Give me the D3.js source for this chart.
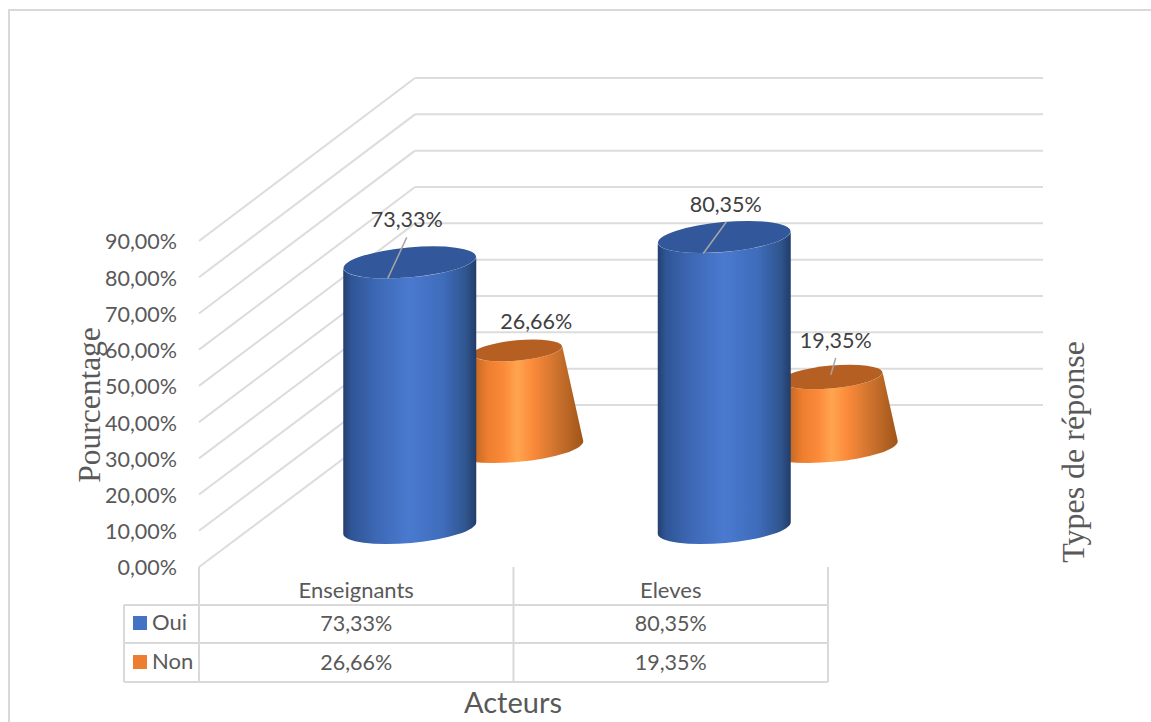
<!DOCTYPE html>
<html>
<head>
<meta charset="utf-8">
<script src="https://cdnjs.cloudflare.com/ajax/libs/d3/7.8.5/d3.min.js"></script>
<style>
  html, body { margin: 0; padding: 0; background: #fff; overflow: hidden; }
  text { font-family: Lato, "Open Sans", sans-serif; fill: #595959; }
</style>
</head>
<body>
<div id="chart"></div>
<script>
// values
const categories = ["Enseignants", "Eleves"];
const seriesNames = ["Oui", "Non"];
const oui = [73.33, 80.35];
const non = [26.66, 19.35];
const yTicks = [0, 10, 20, 30, 40, 50, 60, 70, 80, 90];

const width = 1151;
const height = 722;
const frFormat = function (v) { return v.toFixed(2).replace(".", ",") + "%"; };

// where the 3d box sits on the page
const frontX = 199, backX = 415, backRight = 1043;
const tableLeft = 124, tableRight = 828;
const rowY = [605, 643, 682];
const slope = 0.09;   // tilt of the ellipses
const flat = 0.225;   // ry / rx

const yFront = d3.scaleLinear().domain([0, 90]).range([567, 241]);
const yBack = d3.scaleLinear().domain([0, 90]).range([405, 78]);
const x0 = d3.scaleBand().domain(categories).range([frontX, tableRight]);
const xSeries = d3.scalePoint().domain(seriesNames).range([53.5, 161]);
// cone narrows with height, cylinder does not
const coneRadius = d3.scaleLinear().domain([0, 84]).range([66, 0]);
const blueBase = 528, orangeBase = 447;

const svg = d3.select("#chart").append("svg").attr("width", width).attr("height", height)
  .style("display", "block");

// gradients
const defs = svg.append("defs");
function gradient(id, stops) {
  const g = defs.append("linearGradient").attr("id", id).attr("x1", "0").attr("x2", "1").attr("y1", "0").attr("y2", "0");
  stops.forEach(function (s) { g.append("stop").attr("offset", s[0]).attr("stop-color", s[1]); });
}
gradient("blueSide", [[0, "#253f6e"], [0.06, "#2f5596"], [0.25, "#3d68b5"], [0.5, "#4a7ad0"], [0.75, "#3f6cbb"], [0.92, "#30568f"], [1, "#223c68"]]);
gradient("orangeSide", [[0, "#b86222"], [0.19, "#c96b25"], [0.28, "#ef7f30"], [0.4, "#fb8a3a"], [0.5, "#ffa54f"], [0.62, "#fb8a3a"], [0.82, "#c86f2c"], [1, "#9f5518"]]);

// page frame
svg.append("path").attr("d", "M9,722V10H1151").attr("fill", "none").attr("stroke", "#d9d9d9").attr("stroke-width", 2);

// grid lines on the back and side walls
const grid = svg.append("g").attr("stroke", "#dcdcdc").attr("stroke-width", 2).attr("fill", "none");
grid.selectAll(".back").data(yTicks).enter().append("line").attr("class", "back")
  .attr("x1", backX).attr("x2", backRight)
  .attr("y1", function (d) { return yBack(d); }).attr("y2", function (d) { return yBack(d); });
grid.selectAll(".side").data(yTicks).enter().append("line").attr("class", "side")
  .attr("x1", frontX).attr("x2", backX)
  .attr("y1", function (d) { return yFront(d); }).attr("y2", function (d) { return yBack(d); });

// y axis labels
const yAxis = d3.axisLeft(yFront).tickValues(yTicks).tickFormat(frFormat).tickSize(0).tickPadding(0);
const yG = svg.append("g").attr("transform", "translate(177,1)").call(yAxis);
yG.select(".domain").remove();
yG.selectAll("text").style("font-family", "Lato, sans-serif").style("font-size", "21.5px").style("fill", "#595959");

// ellipse arc helpers, rx at centre cx, cy, going through the tilted axis
function ends(cx, cy, r) {
  return { lx: cx - r, ly: cy + r * slope, rx: cx + r, ry: cy - r * slope };
}
const tilt = -Math.atan(slope) * 180 / Math.PI;

function drawBar(g, cx, base, top, r0, r1, fill, topFill) {
  const b = ends(cx, base, r0), t = ends(cx, top, r1);
  g.append("path")
    .attr("d", "M" + t.lx + "," + t.ly + "L" + b.lx + "," + b.ly +
      "A" + r0 + "," + (r0 * flat) + "," + tilt + ",0,0," + b.rx + "," + b.ry +
      "L" + t.rx + "," + t.ry +
      "A" + r1 + "," + (r1 * flat) + "," + tilt + ",0,1," + t.lx + "," + t.ly + "Z")
    .attr("fill", fill);
  g.append("ellipse").attr("rx", r1).attr("ry", r1 * flat)
    .attr("transform", "translate(" + cx + "," + top + ") rotate(" + tilt + ")")
    .attr("fill", topFill);
}

// centre of a column inside its category band
const barX = function (c, s) { return x0(c) + x0.bandwidth() / 2 + xSeries(s); };
const h = function (v) { return yFront(0) - yFront(v); };

// orange cones go first, the blue cylinders cover them
const bars = svg.append("g");
categories.forEach(function (c, i) {
  drawBar(bars, barX(c, "Non"), orangeBase, orangeBase - h(non[i]), coneRadius(0), coneRadius(non[i]), "url(#orangeSide)", "#b55f22");
});
categories.forEach(function (c, i) {
  drawBar(bars, barX(c, "Oui"), blueBase, blueBase - h(oui[i]), 66.5, 66.5, "url(#blueSide)", "#32579a");
});

// data labels, offset from the centre of each bar's top, some with a leader line
const labelOffsetOui = [{ dx: -3, dy: -43, lead: [[-3, -25], [-22, 16]] }, { dx: 1.5, dy: -33, lead: [[2, -15], [-21, 16.5]] }];
const labelOffsetNon = [{ dx: 19, dy: -29, lead: null }, { dx: 4, dy: -37, lead: [[4, -19], [-1, -2]] }];

function dataLabel(cx, cy, v, o) {
  if (o.lead) {
    svg.append("line").attr("x1", cx + o.lead[0][0]).attr("y1", cy + o.lead[0][1])
      .attr("x2", cx + o.lead[1][0]).attr("y2", cy + o.lead[1][1])
      .attr("stroke", "#a6a6a6").attr("stroke-width", 1.5);
  }
  svg.append("text").attr("x", cx + o.dx).attr("y", cy + o.dy + 8)
    .attr("text-anchor", "middle").style("font-size", "21.5px").style("fill", "#404040")
    .text(frFormat(v));
}
categories.forEach(function (c, i) {
  dataLabel(barX(c, "Oui"), blueBase - h(oui[i]), oui[i], labelOffsetOui[i]);
  dataLabel(barX(c, "Non"), orangeBase - h(non[i]), non[i], labelOffsetNon[i]);
});

// data table under the chart
const table = svg.append("g").attr("stroke", "#d9d9d9").attr("stroke-width", 2).attr("fill", "none");
rowY.forEach(function (y) {
  table.append("line").attr("x1", tableLeft).attr("x2", tableRight).attr("y1", y).attr("y2", y);
});
table.append("line").attr("x1", tableLeft).attr("x2", tableLeft).attr("y1", rowY[0]).attr("y2", rowY[2]);
x0.domain().concat(["end"]).forEach(function (c, i) {
  const x = frontX + i * x0.bandwidth();
  table.append("line").attr("x1", x).attr("x2", x).attr("y1", yFront(0)).attr("y2", rowY[2]);
});

categories.forEach(function (c, i) {
  const cx = x0(c) + x0.bandwidth() / 2;
  svg.append("text").attr("x", cx).attr("y", 598).attr("text-anchor", "middle").style("font-size", "22px").text(c);
  svg.append("text").attr("x", cx).attr("y", 631).attr("text-anchor", "middle").style("font-size", "21.5px").text(frFormat(oui[i]));
  svg.append("text").attr("x", cx).attr("y", 670).attr("text-anchor", "middle").style("font-size", "21.5px").text(frFormat(non[i]));
});

const keyColors = ["#4472c4", "#ed7d31"];
seriesNames.forEach(function (s, i) {
  svg.append("rect").attr("x", 133).attr("y", 616 + i * 39).attr("width", 14).attr("height", 14).attr("fill", keyColors[i]);
  svg.append("text").attr("x", 152).attr("y", 630 + i * 39).style("font-size", "22px").text(s);
});

// axis titles
svg.append("text").attr("x", 513).attr("y", 713).attr("text-anchor", "middle").style("font-size", "29px").text("Acteurs");
svg.append("text").attr("transform", "translate(100,405) rotate(-90)").attr("text-anchor", "middle")
  .style("font-family", "'Liberation Serif', serif").style("font-size", "31.5px").text("Pourcentage");
svg.append("text").attr("transform", "translate(1084,452) rotate(-90)").attr("text-anchor", "middle")
  .style("font-family", "'Liberation Serif', serif").style("font-size", "32px").text("Types de réponse");
</script>
</body>
</html>
